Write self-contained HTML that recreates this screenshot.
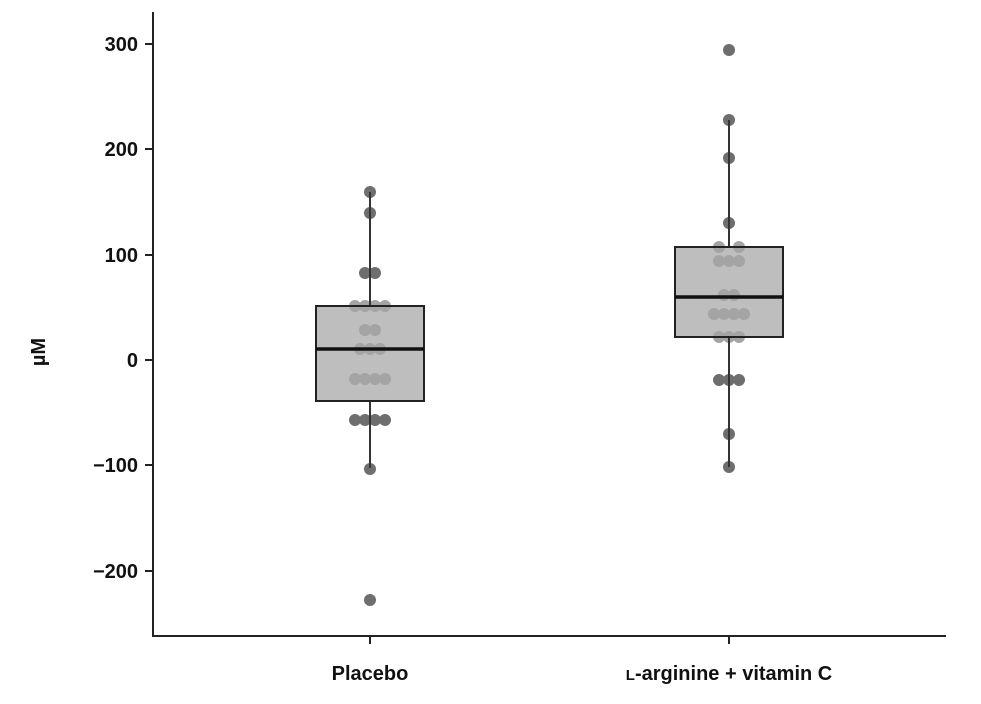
<!DOCTYPE html>
<html><head><style>body{margin:0;background:#fff}</style></head><body>
<svg width="981" height="699" xmlns="http://www.w3.org/2000/svg" font-family="Liberation Sans, sans-serif">
<rect width="981" height="699" fill="#fff"/>
<!-- axes -->
<line x1="153" y1="12" x2="153" y2="637" stroke="#222" stroke-width="2"/>
<line x1="152" y1="636" x2="946" y2="636" stroke="#222" stroke-width="2"/>
<g stroke="#222" stroke-width="2">
<line x1="145" y1="44" x2="153" y2="44"/><line x1="145" y1="149" x2="153" y2="149"/>
<line x1="145" y1="255" x2="153" y2="255"/><line x1="145" y1="360" x2="153" y2="360"/>
<line x1="145" y1="465" x2="153" y2="465"/><line x1="145" y1="571" x2="153" y2="571"/>
<line x1="370" y1="636" x2="370" y2="644"/><line x1="729" y1="636" x2="729" y2="644"/>
</g>
<g font-size="20" font-weight="bold" fill="#111" text-anchor="end">
<text x="138" y="51">300</text><text x="138" y="156">200</text><text x="138" y="262">100</text>
<text x="138" y="367">0</text><text x="138" y="472">−100</text><text x="138" y="578">−200</text>
</g>
<text x="45" y="352" font-size="20" font-weight="bold" fill="#111" text-anchor="middle" transform="rotate(-90 45 352)">µM</text>
<g font-size="20" font-weight="bold" fill="#111" text-anchor="middle">
<text x="370" y="680">Placebo</text>
<text x="729" y="680"><tspan font-size="15">L</tspan>-arginine + vitamin C</text>
</g>
<!-- placebo -->
<line x1="370" y1="192" x2="370" y2="468" stroke="#333" stroke-width="2"/>
<rect x="316" y="306" width="108" height="95" fill="#bebebe" stroke="#222" stroke-width="2"/>
<g fill="#a4a4a4">
<circle cx="355" cy="306" r="6"/><circle cx="365" cy="306" r="6"/><circle cx="375" cy="306" r="6"/><circle cx="385" cy="306" r="6"/>
<circle cx="365" cy="330" r="6"/><circle cx="375" cy="330" r="6"/>
<circle cx="360" cy="349" r="6"/><circle cx="370" cy="349" r="6"/><circle cx="380" cy="349" r="6"/>
<circle cx="355" cy="379" r="6"/><circle cx="365" cy="379" r="6"/><circle cx="375" cy="379" r="6"/><circle cx="385" cy="379" r="6"/>
</g>
<g fill="#6e6e6e">
<circle cx="370" cy="192" r="6"/><circle cx="370" cy="213" r="6"/>
<circle cx="365" cy="273" r="6"/><circle cx="375" cy="273" r="6"/>
<circle cx="355" cy="420" r="6"/><circle cx="365" cy="420" r="6"/><circle cx="375" cy="420" r="6"/><circle cx="385" cy="420" r="6"/>
<circle cx="370" cy="469" r="6"/><circle cx="370" cy="600" r="6"/>
</g>
<line x1="370" y1="192" x2="370" y2="306" stroke="#333" stroke-width="2"/>
<line x1="370" y1="401" x2="370" y2="468" stroke="#333" stroke-width="2"/>
<rect x="316" y="306" width="108" height="95" fill="none" stroke="#222" stroke-width="2"/>
<line x1="316" y1="349" x2="424" y2="349" stroke="#111" stroke-width="3.5"/>
<!-- L-arginine -->
<rect x="675" y="247" width="108" height="90" fill="#bebebe" stroke="#222" stroke-width="2"/>
<g fill="#a4a4a4">
<circle cx="719" cy="247" r="6"/><circle cx="739" cy="247" r="6"/>
<circle cx="719" cy="261" r="6"/><circle cx="729" cy="261" r="6"/><circle cx="739" cy="261" r="6"/>
<circle cx="724" cy="295" r="6"/><circle cx="734" cy="295" r="6"/>
<circle cx="714" cy="314" r="6"/><circle cx="724" cy="314" r="6"/><circle cx="734" cy="314" r="6"/><circle cx="744" cy="314" r="6"/>
<circle cx="719" cy="337" r="6"/><circle cx="729" cy="337" r="6"/><circle cx="739" cy="337" r="6"/>
</g>
<g fill="#6e6e6e">
<circle cx="729" cy="50" r="6"/><circle cx="729" cy="120" r="6"/><circle cx="729" cy="158" r="6"/><circle cx="729" cy="223" r="6"/>
<circle cx="719" cy="380" r="6"/><circle cx="729" cy="380" r="6"/><circle cx="739" cy="380" r="6"/>
<circle cx="729" cy="434" r="6"/><circle cx="729" cy="467" r="6"/>
</g>
<line x1="729" y1="120" x2="729" y2="247" stroke="#333" stroke-width="2"/>
<line x1="729" y1="337" x2="729" y2="467" stroke="#333" stroke-width="2"/>
<rect x="675" y="247" width="108" height="90" fill="none" stroke="#222" stroke-width="2"/>
<line x1="675" y1="297" x2="783" y2="297" stroke="#111" stroke-width="3.5"/>
</svg>
</body></html>
